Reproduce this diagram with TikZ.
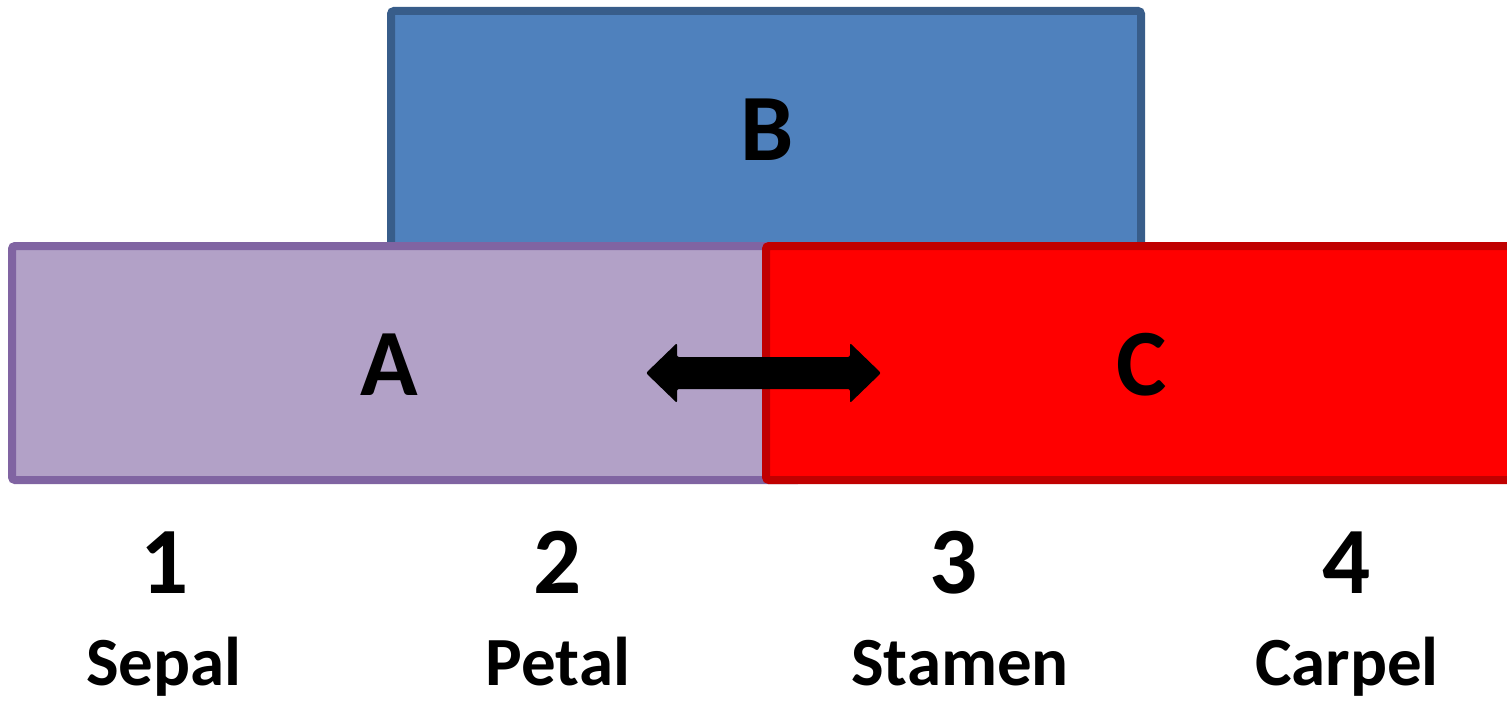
\documentclass[tikz,border=0pt]{standalone}
\usepackage{fontspec}
\setmainfont{Carlito}
\begin{document}
\begin{tikzpicture}[x=1pt,y=-1pt,
  box/.style={line width=8pt,rounded corners=3pt},
  lbl/.style={anchor=base,inner sep=0pt,font=\bfseries\fontsize{95}{95}\selectfont},
  organ/.style={anchor=base,inner sep=0pt,font=\bfseries\fontsize{69}{69}\selectfont}]
\definecolor{bfill}{HTML}{4F81BD}
\definecolor{bline}{HTML}{385D8A}
\definecolor{afill}{HTML}{B2A1C7}
\definecolor{aline}{HTML}{8064A2}
\definecolor{cfill}{HTML}{FF0000}
\definecolor{cline}{HTML}{C00000}
\useasboundingbox (0,0) rectangle (1507,701);
\draw[box,fill=bfill,draw=bline] (391,11) rectangle (1141,330);
\draw[box,fill=afill,draw=aline] (12,246) rectangle (800,480);
\draw[box,fill=cfill,draw=cline] (766,246) rectangle (1530,480);
\node[lbl] (B) at (767,160) {B};
\node[lbl] (A) at (389,395) {A};
\node[lbl] (C) at (1142,395) {C};
\coordinate (arrL) at (646,373);
\coordinate (arrR) at (881,373);
\fill[rounded corners=2pt] (arrL) -- ++(31,-30) -- ++(0,14) -- ++(173,0) -- ++(0,-14)
  -- (arrR) -- ++(-31,30) -- ++(0,-14) -- ++(-173,0) -- ++(0,14) -- cycle;
\node[lbl] (n1) at (165,593) {1};
\node[lbl] (n2) at (558,593) {2};
\node[lbl] (n3) at (954,593) {3};
\node[lbl] (n4) at (1347,593) {4};
\node[organ] (s1) at (164,685) {Sepal};
\node[organ] (s2) at (558,685) {Petal};
\node[organ] (s3) at (960,685) {Stamen};
\node[organ] (s4) at (1347,685) {Carpel};
\end{tikzpicture}
\end{document}
